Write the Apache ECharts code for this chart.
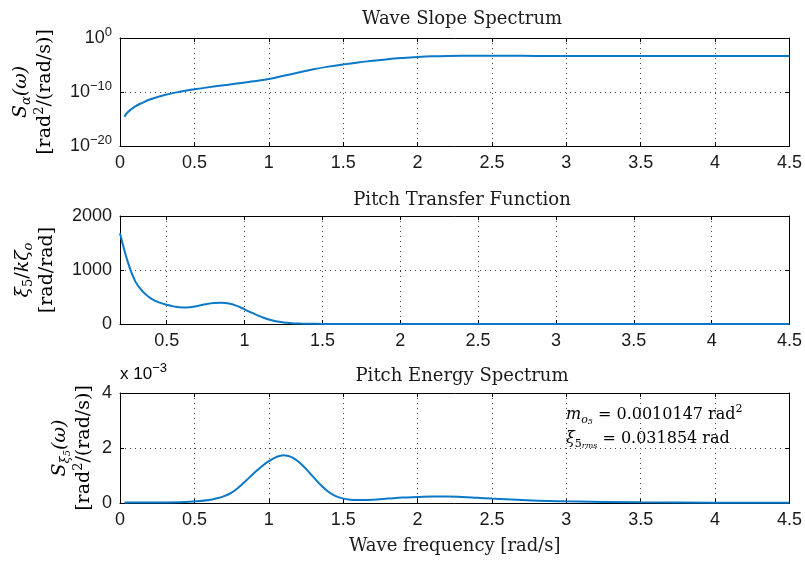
<!DOCTYPE html>
<html>
<head>
<meta charset="utf-8">
<script src="https://cdn.jsdelivr.net/npm/echarts@6/dist/echarts.min.js"></script>
<style>
  html, body { margin: 0; padding: 0; background: #fff; }
  #main { width: 805px; height: 564px; }
</style>
</head>
<body>
<div id="main"></div>
<script>
// Wave slope spectrum (log scale)
var slopeFreq = [0.03, 0.05, 0.1, 0.15, 0.2, 0.3, 0.4, 0.5, 0.6, 0.7, 0.8, 0.9, 1.0, 1.1, 1.2, 1.3, 1.4, 1.5, 1.6, 1.7, 1.8, 1.9, 2.0, 2.1, 2.2, 2.4, 2.6, 2.8, 3.0, 3.5, 4.0, 4.5];
var slopeVal = [2.7e-15, 1.6e-14, 2e-13, 1e-12, 4e-12, 2.8e-11, 1.1e-10, 3.2e-10, 8e-10, 1.8e-9, 4e-9, 1e-8, 2.5e-8, 1e-7, 4e-7, 1.6e-6, 5e-6, 1.3e-5, 3e-5, 6e-5, 1.2e-4, 2e-4, 3e-4, 4e-4, 4.6e-4, 5e-4, 5e-4, 4.8e-4, 4.7e-4, 4.6e-4, 4.5e-4, 4.5e-4];

// Pitch transfer function
var pitchFreq = [0.2, 0.25, 0.3, 0.35, 0.4, 0.45, 0.5, 0.55, 0.6, 0.65, 0.7, 0.75, 0.8, 0.85, 0.9, 0.95, 1.0, 1.05, 1.1, 1.15, 1.2, 1.25, 1.3, 1.35, 1.4, 1.5, 1.6, 1.8, 2.0, 2.5, 3.0, 3.5, 4.0, 4.5];
var pitchVal = [1680, 1150, 780, 590, 470, 400, 355, 322, 305, 312, 335, 365, 388, 395, 380, 335, 272, 205, 140, 87, 50, 28, 16, 9, 5, 2, 1, 0.5, 0, 0, 0, 0, 0, 0];

// Pitch energy spectrum (x 10^-3)
var energyFreq = [0.03, 0.2, 0.4, 0.5, 0.6, 0.65, 0.7, 0.75, 0.8, 0.85, 0.9, 0.95, 1.0, 1.05, 1.1, 1.15, 1.2, 1.25, 1.3, 1.35, 1.4, 1.45, 1.5, 1.55, 1.6, 1.7, 1.8, 1.9, 2.0, 2.1, 2.2, 2.3, 2.4, 2.5, 2.7, 3.0, 3.5, 4.0, 4.5];
var energyVal = [0.02, 0.02, 0.03, 0.06, 0.11, 0.17, 0.25, 0.38, 0.58, 0.83, 1.08, 1.32, 1.52, 1.67, 1.74, 1.68, 1.5, 1.24, 0.94, 0.65, 0.41, 0.25, 0.16, 0.12, 0.11, 0.12, 0.16, 0.2, 0.22, 0.24, 0.24, 0.22, 0.19, 0.16, 0.11, 0.06, 0.025, 0.01, 0.005];

var xTicks = [0.5, 1, 1.5, 2, 2.5, 3, 3.5, 4, 4.5];
var titles = ['Wave Slope Spectrum', 'Pitch Transfer Function', 'Pitch Energy Spectrum'];

var blue = '#0b78c8';
var serif = 'DejaVu Serif';
var sans = 'Liberation Sans';
var ink = '#1a1a1a';

var grids = [
  { left: 120, right: 14, top: 38, height: 108 },
  { left: 120, right: 14, top: 216, height: 108 },
  { left: 120, right: 14, top: 393, height: 110 }
];

var split = { show: true, lineStyle: { color: '#444', width: 1, type: [1, 4] } };
var line = { show: true, onZero: false, lineStyle: { color: '#000', width: 1 } };
var tick = { show: true, inside: true, length: 4, lineStyle: { color: '#000' } };
var lab = { color: ink, fontFamily: sans, fontSize: 18 };

function pair(a, b) {
  var out = [];
  for (var i = 0; i < a.length; i++) out.push([a[i], b[i]]);
  return out;
}

function xAxisFor(g, pos, show) {
  var ax = {
    type: 'value', gridIndex: g, position: pos,
    axisLine: line, axisTick: tick,
    splitLine: show ? split : { show: false },
    axisLabel: show ? Object.assign({ margin: 8 }, lab) : { show: false }
  };
  if (g === 1) {
    ax.min = 0.2; ax.max = 4.5;
    ax.axisTick = Object.assign({ customValues: xTicks }, tick);
    if (show) ax.axisLabel = Object.assign({ margin: 8, customValues: xTicks }, lab);
  } else {
    ax.min = 0; ax.max = 4.5; ax.interval = 0.5;
  }
  return ax;
}

function supLabel(v) {
  var e = Math.round(Math.log10(v));
  var s = e < 0 ? '\u2212' + (-e) : '' + e;
  return '{b|10}{e|' + s + '}';
}

function plain(v) { return '' + v; }

function yAxisFor(g, pos, show) {
  var ax = {
    gridIndex: g, position: pos,
    axisLine: line, axisTick: tick,
    splitLine: show ? split : { show: false },
    axisLabel: show ? Object.assign({ margin: 8, formatter: plain }, lab) : { show: false }
  };
  if (g === 0) {
    ax.type = 'log'; ax.logBase = 10; ax.min = 1e-20; ax.max = 1; ax.interval = 10;
    if (show) {
      ax.axisLabel.formatter = supLabel;
      ax.axisLabel.rich = {
        b: { fontFamily: sans, fontSize: 18, color: ink, lineHeight: 24 },
        e: { fontFamily: sans, fontSize: 13, color: ink, lineHeight: 13, verticalAlign: 'top' }
      };
    }
  } else if (g === 1) {
    ax.type = 'value'; ax.min = 0; ax.max = 2000; ax.interval = 1000;
  } else {
    ax.type = 'value'; ax.min = 0; ax.max = 4; ax.interval = 2;
  }
  return ax;
}

var xAxes = [], yAxes = [];
for (var g = 0; g < 3; g++) {
  xAxes.push(xAxisFor(g, 'bottom', true));
  yAxes.push(yAxisFor(g, 'left', true));
}
for (var g = 0; g < 3; g++) {
  xAxes.push(xAxisFor(g, 'top', false));
  yAxes.push(yAxisFor(g, 'right', false));
}
xAxes[2].name = 'Wave frequency [rad/s]';
xAxes[2].nameLocation = 'middle';
xAxes[2].nameGap = 34;
xAxes[2].nameTextStyle = { fontFamily: serif, fontSize: 18, color: ink };

function mathStyles(base, lh) {
  var s = Math.round(base * 0.68);
  return {
    i: { fontFamily: serif, fontStyle: 'italic', fontSize: base, color: ink, lineHeight: lh },
    r: { fontFamily: serif, fontSize: base, color: ink, lineHeight: lh },
    sb: { fontFamily: serif, fontStyle: 'italic', fontSize: s, color: ink, lineHeight: s, verticalAlign: 'bottom' },
    sbr: { fontFamily: serif, fontSize: s, color: ink, lineHeight: s, verticalAlign: 'bottom' },
    ssb: { fontFamily: serif, fontStyle: 'italic', fontSize: Math.round(base * 0.5), color: ink, lineHeight: 4, verticalAlign: 'bottom' },
    sp: { fontFamily: serif, fontSize: s, color: ink, lineHeight: s + 4, verticalAlign: 'top' }
  };
}
var richName = mathStyles(19, 24);
var richNote = mathStyles(16, 22);

function yName(x, y, text) {
  return {
    type: 'text', x: x, y: y, rotation: Math.PI / 2,
    style: { text: text, rich: richName, align: 'center', verticalAlign: 'middle' }
  };
}

var option = {
  animation: false,
  backgroundColor: '#fff',
  title: titles.map(function (t, i) {
    return {
      text: t, left: 457, top: [5, 186, 362][i], textAlign: 'center',
      textStyle: { fontFamily: serif, fontSize: 18, fontWeight: 'normal', color: ink }
    };
  }),
  grid: grids,
  xAxis: xAxes,
  yAxis: yAxes,
  series: [
    { type: 'line', xAxisIndex: 0, yAxisIndex: 0, data: pair(slopeFreq, slopeVal), showSymbol: false, smooth: 0.4, lineStyle: { color: blue, width: 2 }, itemStyle: { color: blue } },
    { type: 'line', xAxisIndex: 1, yAxisIndex: 1, data: pair(pitchFreq, pitchVal), showSymbol: false, smooth: 0.4, lineStyle: { color: blue, width: 2 }, itemStyle: { color: blue } },
    { type: 'line', xAxisIndex: 2, yAxisIndex: 2, data: pair(energyFreq, energyVal), showSymbol: false, smooth: 0.4, lineStyle: { color: blue, width: 2 }, itemStyle: { color: blue } }
  ],
  graphic: [
    yName(33, 92, '{i|S}{sb|α}{i|(ω)}\n{r|[rad}{sp|2}{r|/(rad/s)]}'),
    yName(35, 270, '{i|ξ}{sbr|5}{r|/}{i|kζ}{sb|o}\n{r|[rad/rad]}'),
    yName(72, 448, '{i|S}{sb|ξ}{ssb|5}{i|(ω)}\n{r|[rad}{sp|2}{r|/(rad/s)]}'),
    {
      type: 'text', left: 120, top: 362,
      style: {
        text: '{b|x 10}{e|\u22123}',
        rich: {
          b: { fontFamily: sans, fontSize: 17, color: ink, lineHeight: 24 },
          e: { fontFamily: sans, fontSize: 13, color: ink, lineHeight: 13, verticalAlign: 'top' }
        }
      }
    },
    {
      type: 'text', left: 566, top: 404,
      style: { text: '{i|m}{sb|o}{ssb|5}{r| = 0.0010147 rad}{sp|2}', rich: richNote }
    },
    {
      type: 'text', left: 566, top: 431,
      style: { text: '{i|ξ}{sbr|5}{ssb|rms}{r| = 0.031854 rad}', rich: richNote }
    }
  ]
};

var chart = echarts.init(document.getElementById('main'));
chart.setOption(option);
</script>
</body>
</html>
